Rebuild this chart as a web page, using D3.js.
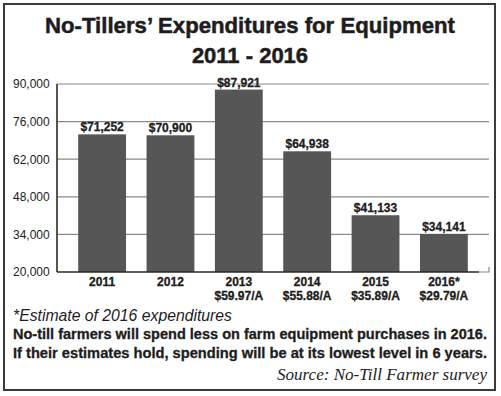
<!DOCTYPE html>
<html lang="en">
<head>
  <meta charset="UTF-8">
  <script src="https://d3js.org/d3.v7.min.js"></script>
  <title>No-Tillers' Expenditures for Equipment</title>
  <style>
    body { margin: 0; background: #fff; }
    text { font-family: "Liberation Sans", Arial, sans-serif; fill: #1e1c1c; }
  </style>
</head>
<body>
  <svg width="501" height="396"></svg>
  <script>
    // data
    var years = ["2011", "2012", "2013", "2014", "2015", "2016*"];
    var spending = [71252, 70900, 87921, 64938, 41133, 34141];
    var perAcre = ["", "", "$59.97/A", "$55.88/A", "$35.89/A", "$29.79/A"];
    var yTicks = [20000, 34000, 48000, 62000, 76000, 90000];

    var svg = d3.select("svg");
    var plot = {left: 57, right: 489, top: 84, bottom: 272};

    // frame
    svg.append("rect")
      .attr("x", 4).attr("y", 4).attr("width", 491).attr("height", 386)
      .attr("fill", "#fff").attr("stroke", "#3a3a3a").attr("stroke-width", 2);

    // title
    svg.append("text").attr("x", 250).attr("y", 33)
      .attr("text-anchor", "middle").attr("font-size", 22).attr("font-weight", "bold")
      .attr("stroke", "#1e1c1c").attr("stroke-width", 0.5)
      .attr("textLength", 410).attr("lengthAdjust", "spacingAndGlyphs")
      .text("No-Tillers\u2019 Expenditures for Equipment");
    svg.append("text").attr("x", 250).attr("y", 63)
      .attr("text-anchor", "middle").attr("font-size", 22).attr("font-weight", "bold")
      .attr("stroke", "#1e1c1c").attr("stroke-width", 0.5)
      .text("2011 - 2016");

    // scales
    var x = d3.scaleBand()
      .domain(years)
      .range([plot.left, plot.right])
      .paddingInner(0.3)
      .paddingOuter(0.31);
    var y = d3.scaleLinear()
      .domain([20000, 90000])
      .range([plot.bottom, plot.top]);

    // grid lines
    svg.append("g").selectAll("line")
      .data(yTicks.slice(1))
      .enter().append("line")
      .attr("x1", plot.left).attr("x2", plot.right)
      .attr("y1", function(d){ return y(d) }).attr("y2", function(d){ return y(d) })
      .attr("stroke", "#8a8a8a").attr("stroke-width", 1.2);

    // y labels
    svg.append("g").selectAll("text")
      .data(yTicks)
      .enter().append("text")
      .attr("x", 13)
      .attr("y", function(d){ return y(d) })
      .attr("dy", "0.36em")
      .attr("font-size", 12)
      .text(function(d){ return d3.format(",")(d) });

    // bars
    svg.append("g").selectAll("rect")
      .data(spending)
      .enter().append("rect")
      .attr("x", function(d, i){ return x(years[i]) })
      .attr("y", function(d){ return y(d) })
      .attr("width", x.bandwidth())
      .attr("height", function(d){ return plot.bottom - y(d) })
      .attr("fill", "#575656");

    // value labels
    svg.append("g").selectAll("text")
      .data(spending)
      .enter().append("text")
      .attr("x", function(d, i){ return x(years[i]) + x.bandwidth() / 2 })
      .attr("y", function(d){ return y(d) - 3 })
      .attr("text-anchor", "middle")
      .attr("font-size", 12).attr("font-weight", "bold")
      .attr("stroke", "#1e1c1c").attr("stroke-width", 0.3)
      .text(function(d){ return "$" + d3.format(",")(d) });

    // axes lines
    svg.append("line")
      .attr("x1", plot.left).attr("x2", plot.left)
      .attr("y1", plot.top).attr("y2", plot.bottom)
      .attr("stroke", "#1e1c1c").attr("stroke-width", 1.5);
    svg.append("line")
      .attr("x1", plot.left).attr("x2", plot.right - 10)
      .attr("y1", plot.bottom).attr("y2", plot.bottom)
      .attr("stroke", "#2a2a2a").attr("stroke-width", 1.5);
    svg.append("path")
      .attr("d", "M" + (plot.right - 10) + "," + plot.bottom + "H" + plot.right + "V" + (plot.bottom - 5))
      .attr("fill", "none").attr("stroke", "#8a8a8a").attr("stroke-width", 1.2);

    // x labels
    var xl = svg.append("g").selectAll("text")
      .data(years)
      .enter().append("text")
      .attr("x", function(d){ return x(d) + x.bandwidth() / 2 })
      .attr("y", 286)
      .attr("text-anchor", "middle")
      .attr("font-size", 12).attr("font-weight", "bold")
      .attr("stroke", "#1e1c1c").attr("stroke-width", 0.3);
    xl.append("tspan").text(function(d){ return d });
    xl.append("tspan")
      .attr("x", function(d){ return x(d) + x.bandwidth() / 2 })
      .attr("dy", 14)
      .text(function(d, i){ return perAcre[i] });

    // notes
    svg.append("text").attr("x", 13).attr("y", 321)
      .attr("font-size", 16).attr("font-style", "italic")
      .attr("textLength", 219).attr("lengthAdjust", "spacingAndGlyphs")
      .text("*Estimate of 2016 expenditures");
    svg.append("text").attr("x", 13).attr("y", 339)
      .attr("font-size", 14).attr("font-weight", "bold")
      .attr("stroke", "#1e1c1c").attr("stroke-width", 0.3)
      .attr("textLength", 474).attr("lengthAdjust", "spacingAndGlyphs")
      .text("No-till farmers will spend less on farm equipment purchases in 2016.");
    svg.append("text").attr("x", 13).attr("y", 358)
      .attr("font-size", 14).attr("font-weight", "bold")
      .attr("stroke", "#1e1c1c").attr("stroke-width", 0.3)
      .attr("textLength", 474).attr("lengthAdjust", "spacingAndGlyphs")
      .text("If their estimates hold, spending will be at its lowest level in 6 years.");
    svg.append("text").attr("x", 487).attr("y", 380)
      .attr("text-anchor", "end")
      .attr("font-size", 16).attr("font-style", "italic")
      .attr("textLength", 210).attr("lengthAdjust", "spacingAndGlyphs")
      .style("font-family", "'Liberation Serif', 'DejaVu Serif', serif")
      .text("Source:  No-Till Farmer survey");
  </script>
</body>
</html>
